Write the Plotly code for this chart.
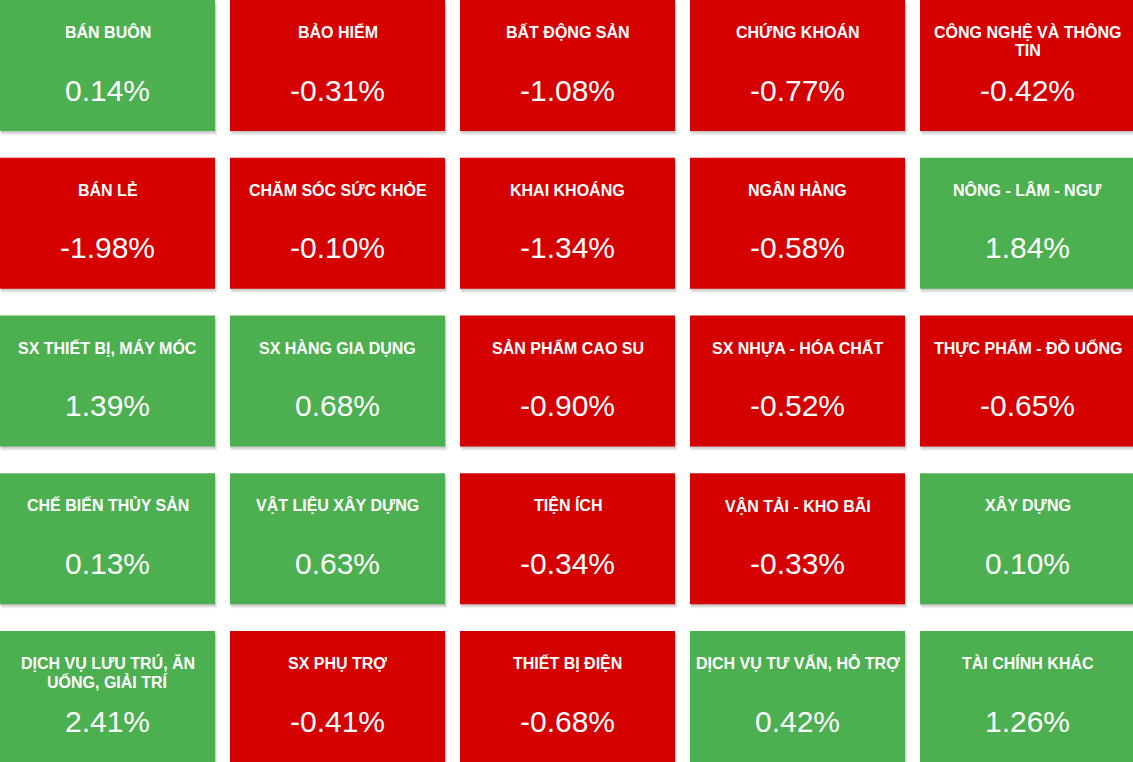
import plotly.graph_objects as go

# ── Data ────────────────────────────────────────────────────────────────────
sectors = [
    "BÁN BUÔN", "BẢO HIỂM", "BẤT ĐỘNG SẢN", "CHỨNG KHOÁN", "CÔNG NGHỆ VÀ THÔNG<br>TIN",
    "BÁN LẺ", "CHĂM SÓC SỨC KHỎE", "KHAI KHOÁNG", "NGÂN HÀNG", "NÔNG - LÂM - NGƯ",
    "SX THIẾT BỊ, MÁY MÓC", "SX HÀNG GIA DỤNG", "SẢN PHẨM CAO SU", "SX NHỰA - HÓA CHẤT", "THỰC PHẨM - ĐỒ UỐNG",
    "CHẾ BIẾN THỦY SẢN", "VẬT LIỆU XÂY DỰNG", "TIỆN ÍCH", "VẬN TẢI - KHO BÃI", "XÂY DỰNG",
    "DỊCH VỤ LƯU TRÚ, ĂN<br>UỐNG, GIẢI TRÍ", "SX PHỤ TRỢ", "THIẾT BỊ ĐIỆN", "DỊCH VỤ TƯ VẤN, HỖ TRỢ", "TÀI CHÍNH KHÁC",
]
changes = [
    0.14, -0.31, -1.08, -0.77, -0.42,
    -1.98, -0.10, -1.34, -0.58, 1.84,
    1.39, 0.68, -0.90, -0.52, -0.65,
    0.13, 0.63, -0.34, -0.33, 0.10,
    2.41, -0.41, -0.68, 0.42, 1.26,
]

# ── Style / grid geometry ───────────────────────────────────────────────────
N_COLS = 5
COL_PITCH, ROW_PITCH = 230, 157.75
TILE_W, TILE_H = 215, 131
GREEN, RED = "#4CAF50", "#D50000"
FONT = "Arial, Liberation Sans, sans-serif"

fig = go.Figure()
shapes, annotations = [], []
val_x, val_y, val_txt = [], [], []

for i, (name, chg) in enumerate(zip(sectors, changes)):
    r, c = divmod(i, N_COLS)
    x0, y0 = c * COL_PITCH, r * ROW_PITCH
    x1, y1 = x0 + TILE_W, y0 + TILE_H
    cx = (x0 + x1) / 2

    # soft drop shadow
    for k in (1, 2, 3, 4):
        shapes.append(dict(
            type="rect", x0=x0 + k * 0.3, x1=x1 + k * 0.5, y0=y0 + k, y1=y1 + k,
            line=dict(width=0), fillcolor="rgba(0,0,0,0.06)", layer="below",
        ))
    shapes.append(dict(
        type="rect", x0=x0, x1=x1, y0=y0, y1=y1,
        line=dict(width=0), fillcolor=GREEN if chg >= 0 else RED, layer="below",
    ))

    lines = name.split("<br>")
    for j, ln in enumerate(lines):
        annotations.append(dict(
            x=cx, y=y0 + 32 + j * 18, text=f"<b>{ln}</b>", showarrow=False,
            xanchor="center", yanchor="middle",
            font=dict(family=FONT, size=16, color="white"),
        ))

    val_x.append(cx)
    val_y.append(y0 + 93)
    val_txt.append(f"{chg:.2f}%")

fig.add_trace(go.Scatter(
    x=val_x, y=val_y, text=val_txt, mode="text",
    textposition="middle center",
    textfont=dict(family=FONT, size=30, color="white"),
    hoverinfo="skip", showlegend=False,
))

fig.update_layout(
    width=1133, height=762,
    margin=dict(l=0, r=0, t=0, b=0),
    paper_bgcolor="white", plot_bgcolor="white",
    xaxis=dict(range=[0, 1133], visible=False, fixedrange=True),
    yaxis=dict(range=[762, 0], visible=False, fixedrange=True),
    shapes=shapes, annotations=annotations,
    showlegend=False,
)

fig.write_html(
    "out.html",
    config={"displayModeBar": False},
    post_script="document.body.style.margin='0';document.body.style.overflow='hidden';",
)
